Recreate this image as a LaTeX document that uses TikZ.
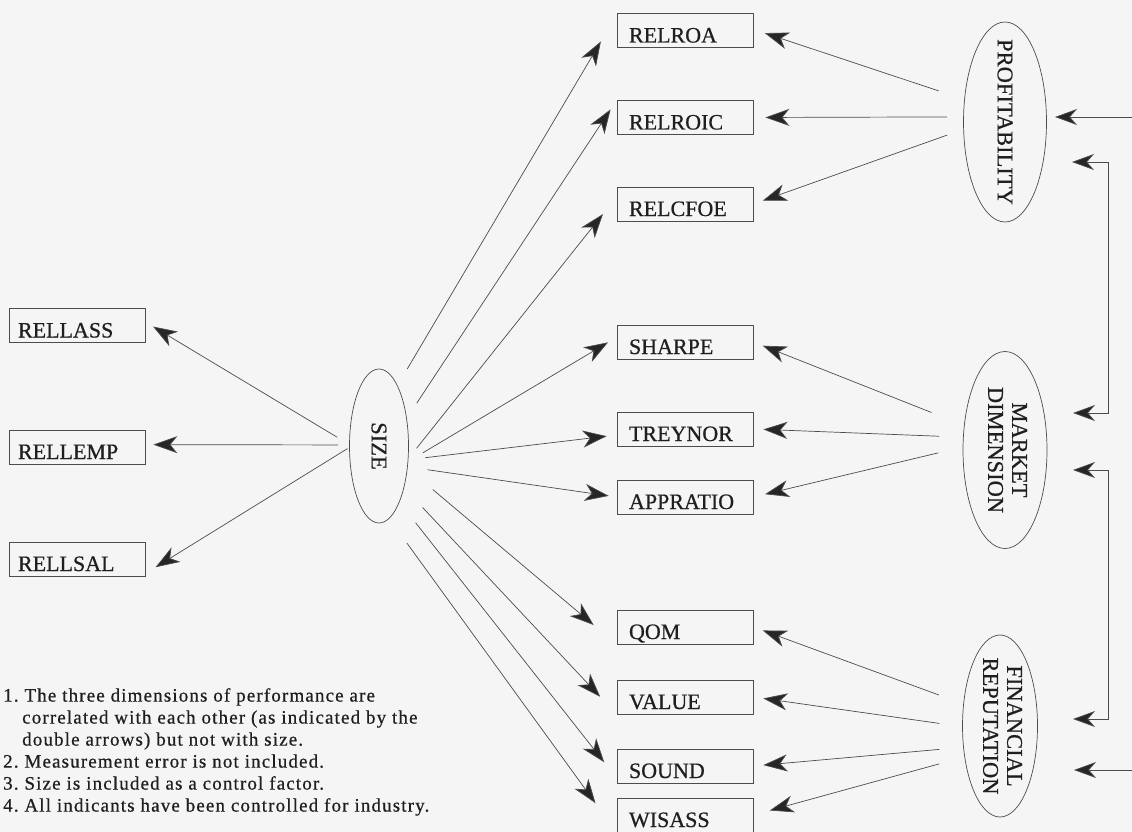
\documentclass[tikz,border=0pt]{standalone}
\usepackage{fontspec}
\setmainfont[FakeBold=0.6]{Liberation Serif}
\newfontfamily\notefont[LetterSpace=6,FakeBold=0.6]{Liberation Serif}
\usetikzlibrary{shapes.geometric,arrows.meta}
\newcommand{\vtext}[1]{\raisebox{0.5\totalheight}[0pt][0pt]{\rotatebox{-90}{#1}}}
\begin{document}
\begin{tikzpicture}[x=1pt,y=-1pt,
	var/.style={draw=black!70, line width=0.7pt, minimum width=136pt, minimum height=34pt,
		inner ysep=0pt, inner xsep=12pt, text width=112pt, align=left,
		text height=24pt, text depth=0pt, font=\fontsize{22}{24}\selectfont, text=black!88},
	varl/.style={var, inner xsep=9pt, text width=118pt},
	factor/.style={ellipse, draw=black!70, line width=0.7pt, inner sep=0pt,
		font=\fontsize{22.5}{24}\selectfont, text=black!88},
	arr/.style={draw=black!70, line width=0.7pt, -{Stealth[length=24pt, width=17pt, inset=7pt, fill=black!85]}},
	dbl/.style={draw=black!70, line width=0.7pt, {Stealth[length=22pt, width=16pt, inset=7pt, fill=black!85]}-{Stealth[length=22pt, width=16pt, inset=7pt, fill=black!85]}}
	]
	\useasboundingbox (0,0) rectangle (1132,832);
	\clip (0,0) rectangle (1132,832);
	\fill[black!4] (0,0) rectangle (1132,832);

	\path
	node[varl] at (77,325.5) (rellass) {RELLASS}
	node[varl] at (77,447) (rellemp) {RELLEMP}
	node[varl] at (77,559) (rellsal) {RELLSAL}

	node[var] at (685,30.5) (relroa) {RELROA}
	node[var] at (685,117.5) (relroic) {RELROIC}
	node[var] at (685,204) (relcfoe) {RELCFOE}
	node[var] at (685,342) (sharpe) {SHARPE}
	node[var] at (685,429) (treynor) {TREYNOR}
	node[var] at (685,497) (appratio) {APPRATIO}
	node[var] at (685,627) (qom) {QOM}
	node[var] at (685,697) (value) {VALUE}
	node[var] at (685,766) (sound) {SOUND}
	node[var] at (685,815) (wisass) {WISASS}

	node[factor, minimum width=59pt, minimum height=154pt] at (379,446) (size) {\vtext{SIZE}}
	node[factor, minimum width=83pt, minimum height=200pt] at (1005,122) (profit) {\vtext{PROFITABILITY}}
	node[factor, minimum width=84pt, minimum height=197pt] at (1005,450) (market) {\vtext{\begin{tabular}{@{}c@{}}MARKET\\DIMENSION\end{tabular}}}
	node[factor, minimum width=75pt, minimum height=182pt] at (1000,726) (fin) {\vtext{\begin{tabular}{@{}c@{}}FINANCIAL\\REPUTATION\end{tabular}}};

	\node[anchor=north west, align=left, inner sep=0pt, text=black!88,
		font=\notefont\fontsize{19}{22}\selectfont] (notes) at (3,688)
		{1.\ The three dimensions of performance are\\
		\hspace*{19pt}correlated with each other (as indicated by the\\
		\hspace*{19pt}double arrows) but not with size.\\
		2.\ Measurement error is not included.\\
		3.\ Size is included as a control factor.\\
		4.\ All indicants have been controlled for industry.};

	\draw[arr, shorten <=14pt, shorten >=9pt] (size.177) -- (rellass.3);
	\draw[arr, shorten <=11pt, shorten >=8pt] (size.178) -- (rellemp.2);
	\draw[arr, shorten <=2pt, shorten >=12pt] (size.183) -- (rellsal.348);

	\draw[arr, shorten <=19pt, shorten >=31pt] (size.73) -- (relroa.167);
	\draw[arr, shorten <=18pt, shorten >=11pt] (size.45) -- (relroic.north west);
	\draw[arr, shorten <=13pt, shorten >=22pt] (size.-23) -- (relcfoe.174);
	\draw[arr, shorten <=17pt, shorten >=10pt] (size.-28) -- (sharpe.176);
	\draw[arr, shorten <=17pt, shorten >=10pt] (size.-25) -- (treynor.185);
	\draw[arr, shorten <=20pt, shorten >=8pt] (size.-36) -- (appratio.180);
	\draw[arr, shorten <=33pt, shorten >=30pt] (size.-38) -- (qom.south west);
	\draw[arr, shorten <=27pt, shorten >=24pt] (size.-59) -- (value.south west);
	\draw[arr, shorten <=26pt, shorten >=20pt] (size.-70) -- (sound.190);
	\draw[arr, shorten <=30pt, shorten >=36pt] (size.-82) -- (wisass.south west);

	\draw[arr, shorten <=27pt, shorten >=12pt] (profit.151) -- (relroa.1);
	\draw[arr, shorten <=16pt, shorten >=12pt] (profit.173) -- (relroic.east);
	\draw[arr, shorten <=17pt, shorten >=10pt] (profit.190) -- (relcfoe.east);

	\draw[arr, shorten <=35pt, shorten >=10pt] (market.149) -- (sharpe.east);
	\draw[arr, shorten <=24pt, shorten >=10pt] (market.163) -- (treynor.east);
	\draw[arr, shorten <=25pt, shorten >=12pt] (market.176) -- (appratio.east);

	\draw[arr, shorten <=26pt, shorten >=10pt] (fin.149) -- (qom.east);
	\draw[arr, shorten <=23pt, shorten >=10pt] (fin.181) -- (value.east);
	\draw[arr, shorten <=24pt, shorten >=10pt] (fin.210) -- (sound.east);
	\draw[arr, shorten <=26pt, shorten >=17pt] (fin.221) -- (wisass.east);

	\coordinate (pr0) at (1055,117);
	\coordinate (pr1) at (1072,162);
	\coordinate (mk1) at (1073,413);
	\coordinate (mk2) at (1073,470);
	\coordinate (fr1) at (1073,719);
	\coordinate (fr0) at (1074,770);
	\coordinate (bra) at (1108,300);
	\coordinate (brb) at (1108,600);
	\coordinate (brc) at (1160,450);

	\draw[dbl] (pr1) -| (bra) |- (mk1);
	\draw[dbl] (mk2) -| (brb) |- (fr1);
	\draw[dbl] (pr0) -| (brc) |- (fr0);
\end{tikzpicture}
\end{document}
